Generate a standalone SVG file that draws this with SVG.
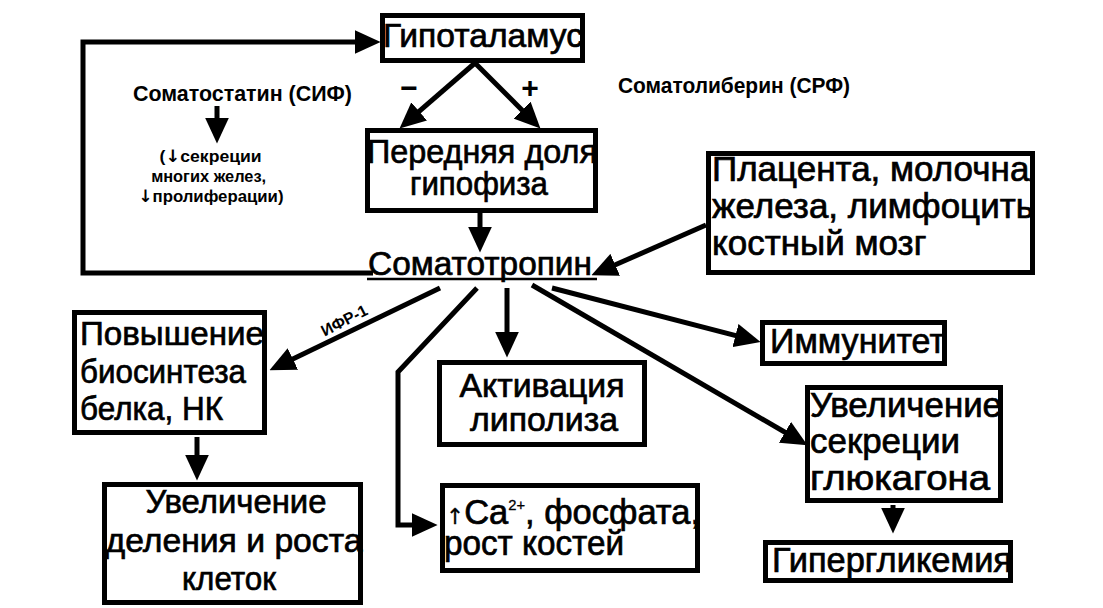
<svg xmlns="http://www.w3.org/2000/svg" width="1103" height="608" viewBox="0 0 1103 608">
<style>
.box{fill:#fff;stroke:#000;stroke-width:5}
.big{font-family:"Liberation Sans","DejaVu Sans",Arial,sans-serif;font-size:34px;fill:#000;stroke:#000;stroke-width:0.7}
.b34{font-size:35px}
.small{font-family:"Liberation Sans","DejaVu Sans",Arial,sans-serif;font-weight:bold;fill:#000}
.arr{font-family:"DejaVu Sans",sans-serif}
.ln{fill:none;stroke:#000;stroke-width:5;marker-end:url(#ah)}
</style>
<defs>
<marker id="ah" viewBox="0 0 10 10" refX="4" refY="5" markerWidth="5.2" markerHeight="4.8" preserveAspectRatio="none" orient="auto" markerUnits="strokeWidth">
<path d="M0,0 L10,5 L0,10 z" fill="#000"/>
</marker>
<clipPath id="clipPlac"><rect x="706" y="151" width="328" height="124"/></clipPath>
</defs>
<rect width="1103" height="608" fill="#fff"/>

<g id="connectors">
<path class="ln" d="M373,273 H83 V42 H365"/>
<path class="ln" d="M475,63 L411.3,118.2"/>
<path class="ln" d="M475,63 L529.4,117.4"/>
<path class="ln" d="M480,213 V237"/>
<path class="ln" d="M706,225 L605.7,269"/>
<path class="ln" d="M217,106 V128"/>
<path class="ln" d="M440,288 L283.5,363.5"/>
<path class="ln" d="M477,288 L398,372 V525 H422"/>
<path class="ln" d="M507,288 V342"/>
<path class="ln" d="M552,288 L745.5,338.2"/>
<path class="ln" d="M532,285 L794,437.5"/>
<path class="ln" d="M197,437 V465"/>
<path class="ln" d="M893,505 V518"/>
<text class="small" x="409" y="98" font-size="30" text-anchor="middle">−</text>
<text class="small" x="530" y="98" font-size="30" text-anchor="middle">+</text>
<text class="small" x="344" y="326" font-size="16" text-anchor="middle" transform="rotate(-27 344 320)">ИФР-1</text>
</g>

<g id="n-hypothalamus">
<rect class="box" x="382.5" y="15.5" width="200" height="45"/>
<text class="big" x="383" y="47" textLength="200" lengthAdjust="spacingAndGlyphs">Гипоталамус</text>
</g>

<g id="n-somatostatin">
<text class="small" x="133" y="101" font-size="22" textLength="219" lengthAdjust="spacingAndGlyphs">Соматостатин (СИФ)</text>
<text class="small" font-size="17" text-anchor="middle">
<tspan x="213" y="162" textLength="102" lengthAdjust="spacingAndGlyphs">(<tspan class="arr">↓</tspan>секреции</tspan>
<tspan x="211" y="182" textLength="115" lengthAdjust="spacingAndGlyphs">многих желез,</tspan>
<tspan x="211" y="202" textLength="145" lengthAdjust="spacingAndGlyphs"><tspan class="arr">↓</tspan>пролиферации)</tspan>
</text>
</g>

<g id="n-somatoliberin">
<text class="small" x="618" y="93" font-size="22" textLength="232" lengthAdjust="spacingAndGlyphs">Соматолиберин (СРФ)</text>
</g>

<g id="n-anterior">
<rect class="box" x="367.5" y="130.5" width="228" height="80"/>
<text class="big" x="367" y="163" textLength="230" lengthAdjust="spacingAndGlyphs">Передняя доля</text>
<text class="big" x="410" y="195" textLength="138" lengthAdjust="spacingAndGlyphs">гипофиза</text>
</g>

<g id="n-somatotropin">
<text class="big" x="368" y="275" textLength="224" lengthAdjust="spacingAndGlyphs">Соматотропин</text>
<line x1="367" y1="279" x2="597" y2="279" stroke="#000" stroke-width="2.5"/>
</g>

<g id="n-placenta">
<rect class="box" x="708.5" y="153.5" width="324" height="119"/>
<g clip-path="url(#clipPlac)">
<text class="big b34" x="712" y="181">Плацента, молочная</text>
<text class="big b34" x="712" y="218">железа, лимфоциты</text>
<text class="big b34" x="712" y="255">костный мозг</text>
</g>
<rect x="708.5" y="153.5" width="324" height="119" fill="none" stroke="#000" stroke-width="5"/>
</g>

<g id="n-protein">
<rect class="box" x="74.5" y="312.5" width="190" height="120"/>
<text class="big" x="80" y="345" textLength="184" lengthAdjust="spacingAndGlyphs">Повышение</text>
<text class="big" x="80" y="383" textLength="166" lengthAdjust="spacingAndGlyphs">биосинтеза</text>
<text class="big" x="80" y="420" textLength="143" lengthAdjust="spacingAndGlyphs">белка, НК</text>
</g>

<g id="n-division">
<rect class="box" x="104.5" y="484.5" width="256" height="118"/>
<text class="big" x="236" y="513" text-anchor="middle" textLength="181" lengthAdjust="spacingAndGlyphs">Увеличение</text>
<text class="big" x="234" y="552" text-anchor="middle" textLength="257" lengthAdjust="spacingAndGlyphs">деления и роста</text>
<text class="big" x="229" y="590" text-anchor="middle" textLength="94" lengthAdjust="spacingAndGlyphs">клеток</text>
</g>

<g id="n-lipolysis">
<rect class="box" x="439.5" y="362.5" width="205" height="82"/>
<text class="big" x="542" y="397" text-anchor="middle" textLength="165" lengthAdjust="spacingAndGlyphs">Активация</text>
<text class="big" x="544" y="431" text-anchor="middle" textLength="148" lengthAdjust="spacingAndGlyphs">липолиза</text>
</g>

<g id="n-calcium">
<rect class="box" x="442.5" y="485.5" width="255" height="85"/>
<text class="big b34" x="446" y="524" textLength="254" lengthAdjust="spacingAndGlyphs"><tspan class="arr" font-size="22" stroke-width="0.3">↑</tspan>Ca<tspan font-size="15" dy="-14" stroke-width="0.3">2+</tspan><tspan dy="14">, фосфата,</tspan></text>
<text class="big b34" x="444" y="555" textLength="180" lengthAdjust="spacingAndGlyphs">рост костей</text>
</g>

<g id="n-immunity">
<rect class="box" x="762.5" y="322.5" width="182" height="41"/>
<text class="big b34" x="770" y="353" textLength="175" lengthAdjust="spacingAndGlyphs">Иммунитет</text>
</g>

<g id="n-glucagon">
<rect class="box" x="807.5" y="387.5" width="193" height="113"/>
<text class="big b34" x="810" y="417" textLength="192" lengthAdjust="spacingAndGlyphs">Увеличение</text>
<text class="big b34" x="810" y="453" textLength="150" lengthAdjust="spacingAndGlyphs">секреции</text>
<text class="big b34" x="810" y="490" textLength="180" lengthAdjust="spacingAndGlyphs">глюкагона</text>
</g>

<g id="n-hyperglycemia">
<rect class="box" x="765.5" y="542.5" width="245" height="38"/>
<text class="big b34" x="772" y="572" textLength="240" lengthAdjust="spacingAndGlyphs">Гипергликемия</text>
</g>
</svg>
